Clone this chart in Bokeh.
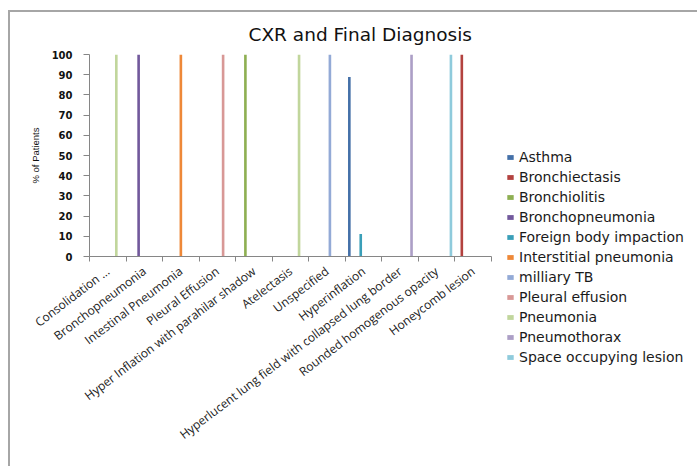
import numpy as np
from bokeh.plotting import figure
from bokeh.models import Range1d, FixedTicker, Legend, LegendItem, ColumnDataSource
from bokeh.embed import file_html
from bokeh.resources import INLINE

categories = [
    "Consolidation ...",
    "Bronchopneumonia",
    "Intestinal Pneumonia",
    "Pleural Effusion",
    "Hyper Inflation with parahilar shadow",
    "Atelectasis",
    "Unspecified",
    "Hyperinflation",
    "Hyperlucent lung field with collapsed lung border",
    "Rounded homogenous opacity",
    "Honeycomb lesion",
]

series_names = [
    "Asthma", "Bronchiectasis", "Bronchiolitis", "Bronchopneumonia",
    "Foreign body impaction", "Interstitial pneumonia", "milliary TB",
    "Pleural effusion", "Pneumonia", "Pneumothorax", "Space occupying lesion",
]

asthma =        [0, 0, 0, 0, 0, 0, 0, 88.9, 0, 0, 0]
bronchiectasis = [0, 0, 0, 0, 0, 0, 0, 0, 0, 0, 100]
bronchiolitis = [0, 0, 0, 0, 100, 0, 0, 0, 0, 0, 0]
bronchopneumonia = [0, 100, 0, 0, 0, 0, 0, 0, 0, 0, 0]
foreign_body =  [0, 0, 0, 0, 0, 0, 0, 11.1, 0, 0, 0]
interstitial =  [0, 0, 100, 0, 0, 0, 0, 0, 0, 0, 0]
milliary_tb =   [0, 0, 0, 0, 0, 0, 100, 0, 0, 0, 0]
pleural =       [0, 0, 0, 100, 0, 0, 0, 0, 0, 0, 0]
pneumonia =     [100, 0, 0, 0, 0, 100, 0, 0, 0, 0, 0]
pneumothorax =  [0, 0, 0, 0, 0, 0, 0, 0, 100, 0, 0]
space_occ =     [0, 0, 0, 0, 0, 0, 0, 0, 0, 100, 0]

series_values = [asthma, bronchiectasis, bronchiolitis, bronchopneumonia,
                 foreign_body, interstitial, milliary_tb, pleural,
                 pneumonia, pneumothorax, space_occ]

colors = ["#4470A8", "#B3423F", "#8EAF52", "#72599C", "#3A9FB8", "#EE8838",
          "#93AAD6", "#D89896", "#C1D69C", "#AC9FC6", "#8FCBDC"]

y_ticks = [0, 10, 20, 30, 40, 50, 60, 70, 80, 90, 100]

p = figure(frame_width=402, frame_height=202, output_backend="svg", toolbar_location=None,
           x_range=Range1d(0, len(categories)), y_range=Range1d(0, 100),
           min_border_left=79, min_border_right=204, min_border_top=42,
           min_border_bottom=210)
p.styles = {"border-left": "2px solid #a6a6a6", "border-top": "2px solid #a6a6a6",
            "margin-left": "8px", "margin-top": "10px"}

p.title.text = "CXR and Final Diagnosis"
p.title.align = "left"
p.title.offset = 159
p.title.standoff = 19
p.title.text_font = "DejaVu Sans"
p.title.text_font_size = "18.5px"
p.title.text_font_style = "normal"
p.title.text_color = "#111111"

p.outline_line_color = None
p.xgrid.visible = False
p.ygrid.visible = False

n = len(series_names)
slot = 0.078
items = []
for j, (name, vals, col) in enumerate(zip(series_names, series_values, colors)):
    xs = [i + 0.5 + (j - (n - 1) / 2) * slot for i in range(len(categories))]
    src = ColumnDataSource(dict(x=xs, top=vals))
    r = p.vbar(x="x", top="top", width=slot * 0.92, source=src,
               fill_color=col, line_color=None)
    items.append(LegendItem(label=name, renderers=[r]))

legend = Legend(items=items, location=(15, -111), padding=0, margin=0, spacing=0,
                label_height=20, glyph_width=8, glyph_height=6, label_standoff=5,
                border_line_color=None, background_fill_alpha=0,
                label_text_font="DejaVu Sans", label_text_font_size="14px",
                label_text_color="#1a1a1a")
p.add_layout(legend, "right")

# x axis
xa = p.xaxis[0]
xa.ticker = FixedTicker(ticks=[i + 0.5 for i in range(len(categories))],
                        minor_ticks=list(range(len(categories) + 1)))
xa.major_label_overrides = {i + 0.5: c for i, c in enumerate(categories)}
xa.major_label_orientation = 0.65
xa.major_tick_out = 0
xa.major_tick_in = 0
xa.minor_tick_out = 5
xa.minor_tick_in = 0
xa.minor_tick_line_color = "#868686"
xa.axis_line_color = "#868686"
xa.major_label_standoff = 8
xa.major_label_text_font = "Open Sans"
xa.major_label_text_font_size = "12px"
xa.major_label_text_color = "#222222"

# y axis
ya = p.yaxis[0]
ya.ticker = FixedTicker(ticks=y_ticks, minor_ticks=[])
ya.major_tick_out = 6
ya.major_tick_in = 0
ya.major_tick_line_color = "#868686"
ya.axis_line_color = "#868686"
ya.major_label_standoff = 11
ya.major_label_text_font = "DejaVu Sans"
ya.major_label_text_font_style = "bold"
ya.major_label_text_font_size = "10px"
ya.major_label_text_color = "#111111"
ya.axis_label = "% of Patients"
ya.axis_label_standoff = 8
ya.axis_label_text_font = "Liberation Sans"
ya.axis_label_text_font_size = "9.5px"
ya.axis_label_text_font_style = "normal"
ya.axis_label_text_color = "#111111"

open("out.html", "w").write(file_html(p, INLINE))
